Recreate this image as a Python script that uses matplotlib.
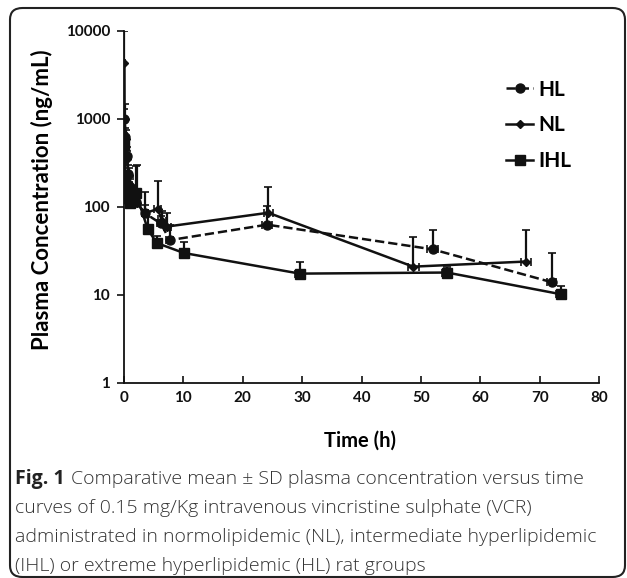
import matplotlib.pyplot as plt
import numpy as np
from matplotlib.patches import FancyBboxPatch
from matplotlib.lines import Line2D

# HL group (dashed, circles)
hl_t = [0.08, 0.25, 0.5, 0.75, 1.0, 1.5, 2.0, 3.5, 6.2, 7.7, 24.1, 52.0, 72.0]
hl_c = [1000, 630, 380, 240, 170, 130, 115, 85, 65, 42, 63, 33, 14]
hl_sd = [300, 150, 100, 60, 40, 30, 25, 20, 15, 20, 40, 22, 16]
hl_tsd = [0.05, 0.1, 0.15, 0.2, 0.3, 0.3, 0.4, 0.5, 0.6, 0.6, 0.8, 0.9, 0.8]

# NL group (solid, diamonds)
nl_t = [0.08, 0.1, 0.3, 0.5, 0.8, 1.0, 1.5, 2.2, 3.5, 5.7, 6.4, 7.3, 24.3, 48.7, 67.7]
nl_c = [4300, 1000, 600, 350, 230, 180, 130, 110, 85, 95, 70, 60, 86, 21, 24]
nl_sd = [5700, 500, 150, 80, 50, 40, 30, 190, 63, 105, 20, 26, 83, 25, 31]
nl_tsd = [0.05, 0.05, 0.1, 0.15, 0.2, 0.3, 0.3, 0.4, 0.5, 0.6, 0.6, 0.6, 0.8, 0.9, 0.8]

# IHL group (solid, squares)
ihl_t = [0.08, 0.25, 0.5, 0.75, 1.0, 1.5, 2.0, 4.0, 5.5, 10.1, 29.6, 54.4, 73.6]
ihl_c = [500, 190, 170, 125, 110, 120, 145, 56, 39, 30, 17.5, 18, 10.2]
ihl_sd = [200, 60, 50, 40, 30, 35, 150, 20, 8, 10, 6.5, 3, 2.4]
ihl_tsd = [0.05, 0.1, 0.15, 0.2, 0.3, 0.3, 0.4, 0.5, 0.6, 0.6, 0.8, 0.9, 0.8]

caption = ["Comparative mean \u00b1 SD plasma concentration versus time",
           "curves of 0.15 mg/Kg intravenous vincristine sulphate (VCR)",
           "administrated in normolipidemic (NL), intermediate hyperlipidemic",
           "(IHL) or extreme hyperlipidemic (HL) rat groups"]

W, H = 627, 578
fig = plt.figure(figsize=(W / 100, H / 100), dpi=100)
ax = fig.add_axes([124 / W, 1 - 383 / H, 475 / W, 352 / H])

chart_font = "Lato"
col = "#111111"

groups = [
    (hl_t, hl_c, hl_sd, hl_tsd, "--", "o", 6.5, "HL"),
    (nl_t, nl_c, nl_sd, nl_tsd, "-", "D", 4.5, "NL"),
    (ihl_t, ihl_c, ihl_sd, ihl_tsd, "-", "s", 7, "IHL"),
]
handles = []
for t, c, sd, tsd, ls, mk, ms, lab in groups:
    t = np.array(t)
    c = np.array(c)
    ax.errorbar(t, c, yerr=[np.zeros_like(c), np.array(sd)], xerr=np.array(tsd),
                fmt="none", ecolor=col, elinewidth=1.6, capsize=3, capthick=1.2)
    ax.plot(t, c, linestyle=ls, color=col, lw=1.8, marker=mk, ms=ms,
            mfc=col, mec=col)
    handles.append(Line2D([], [], linestyle=ls, color=col, lw=1.8, marker=mk,
                          ms=ms, mfc=col, mec=col, label=lab))

ax.set_yscale("log")
ax.set_ylim(1, 10000)
ax.set_xlim(0, 80)
ax.set_yticks([1, 10, 100, 1000, 10000])
ax.set_yticklabels(["1", "10", "100", "1000", "10000"])
ax.set_xticks(range(0, 81, 10))
ax.minorticks_off()
for s in ["top", "right"]:
    ax.spines[s].set_visible(False)
for s in ["left", "bottom"]:
    ax.spines[s].set_linewidth(1.3)
    ax.spines[s].set_color(col)
ax.tick_params(axis="y", direction="out", length=5, width=1.2, pad=5, colors=col)
ax.tick_params(axis="x", direction="in", length=5, width=1.2, pad=6, colors=col)
for lbl in ax.get_xticklabels() + ax.get_yticklabels():
    lbl.set_fontfamily(chart_font)
    lbl.set_fontweight("bold")
    lbl.set_fontsize(11)

ax.set_ylabel("Plasma Concentration (ng/mL)", fontfamily=chart_font,
              fontweight="bold", fontsize=16)
ax.yaxis.set_label_coords(-0.15, 0.52)
ax.set_xlabel("Time (h)", fontfamily=chart_font, fontweight="bold", fontsize=14.5)
ax.xaxis.set_label_coords(0.497, -0.136)

leg = ax.legend(handles=handles, loc="upper left", bbox_to_anchor=(0.765, 0.915),
                frameon=False, handlelength=1.3, labelspacing=0.75,
                handletextpad=0.25, prop={"family": chart_font, "weight": "bold",
                                          "size": 15})

# border around the figure
box = FancyBboxPatch((10 / W, 1 - 577 / H), 615 / W, 569 / H,
                     boxstyle="round,pad=0,rounding_size=0.02",
                     transform=fig.transFigure, fill=False, lw=1.5,
                     ec="#222222")
fig.patches.append(box)

# caption
cap_font = "Open Sans"
ys = [479, 508, 537, 566]
fig.canvas.draw()
r = fig.canvas.get_renderer()
t0 = fig.text(15 / W, 1 - ys[0] / H, "Fig. 1", fontfamily=cap_font,
              fontweight="bold", fontsize=14, va="center", color="#222222")
bb = t0.get_window_extent(renderer=r)
fig.text(bb.x1 / W + 6 / W, 1 - ys[0] / H, caption[0], fontfamily=cap_font,
         fontweight="light", fontsize=14, va="center", color="#333333")
for y, line in zip(ys[1:], caption[1:]):
    fig.text(15 / W, 1 - y / H, line, fontfamily=cap_font, fontweight="light",
             fontsize=14, va="center", color="#333333")

plt.savefig("out.png", dpi=100)
